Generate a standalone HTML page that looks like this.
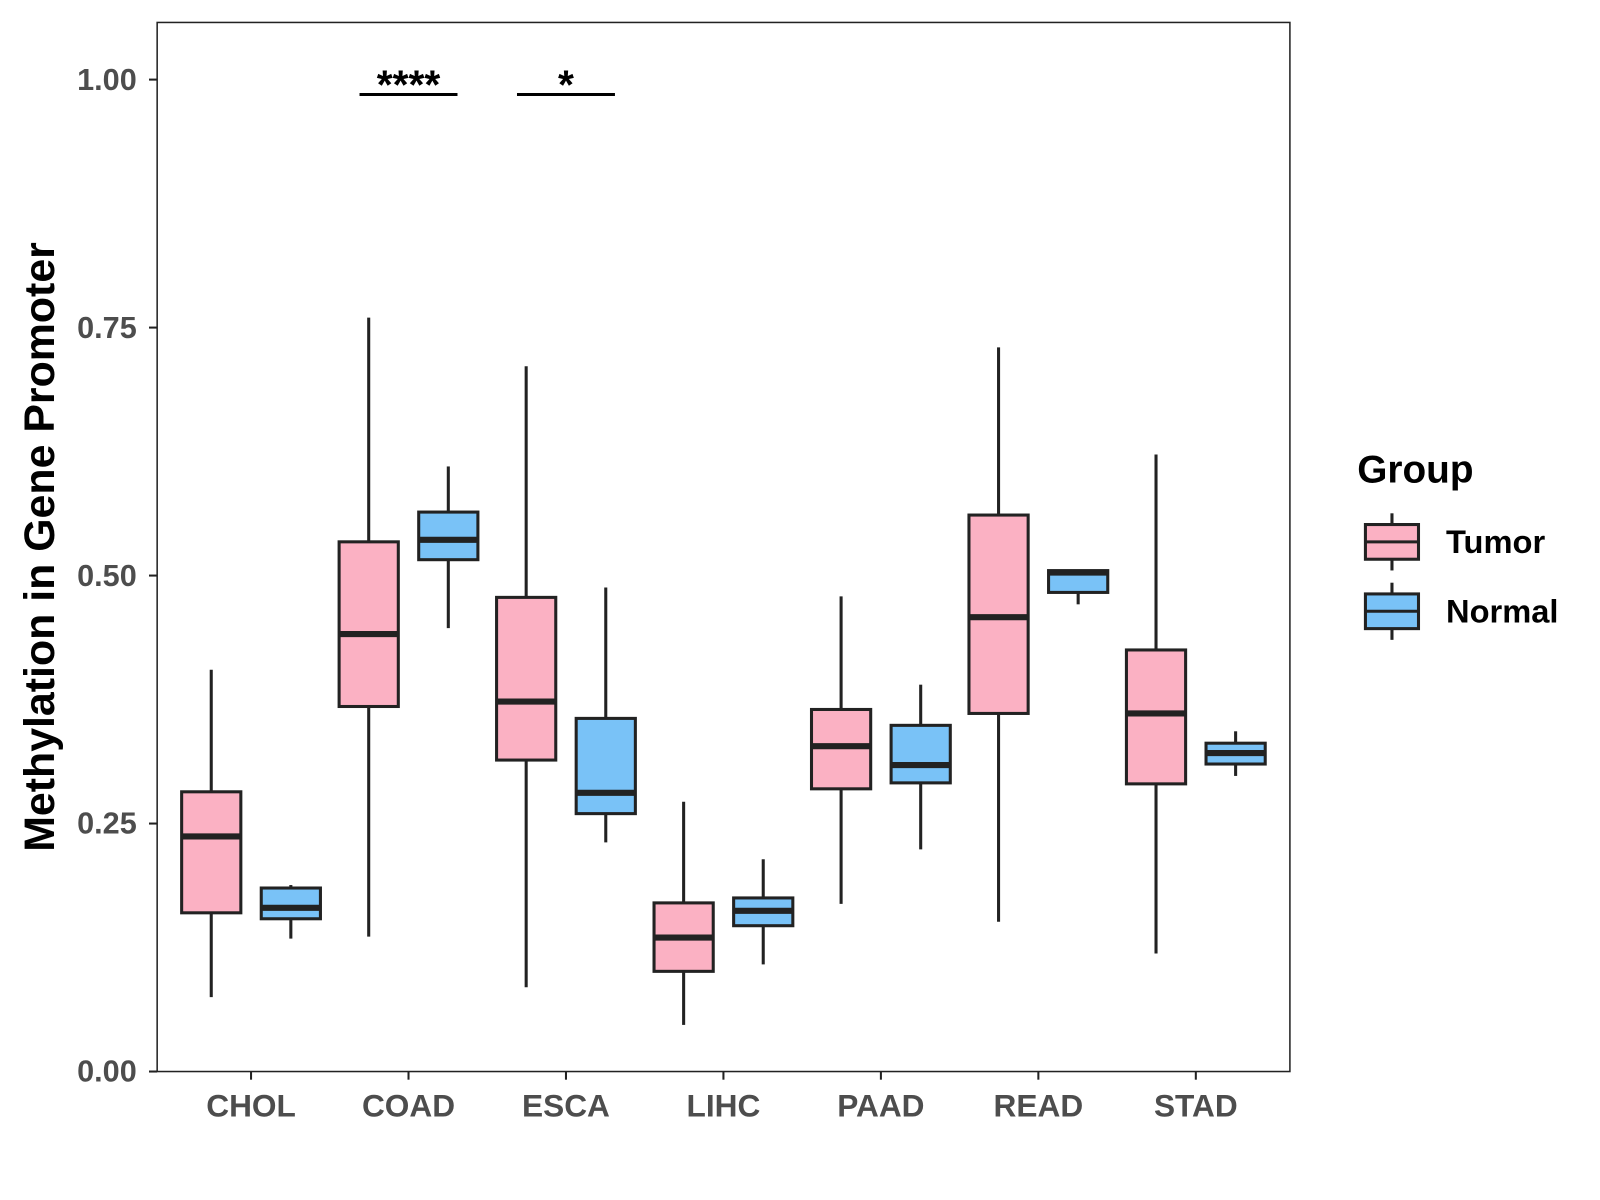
<!DOCTYPE html>
<html><head><meta charset="utf-8"><style>
html,body{margin:0;padding:0;background:#fff;}
svg{display:block;font-family:"Liberation Sans",Arial,sans-serif;}
</style></head><body>
<svg width="1600" height="1200" viewBox="0 0 1600 1200"><g id="chart" transform="scale(1.0205)"></g></svg>
<script>
const categories=["CHOL","COAD","ESCA","LIHC","PAAD","READ","STAD"];
const groups=["Tumor","Normal"];
// [low, q1, median, q3, high]
const tumorStats=[[0.075,0.160,0.237,0.282,0.405],[0.136,0.368,0.441,0.534,0.760],[0.085,0.314,0.373,0.478,0.711],[0.047,0.101,0.135,0.170,0.272],[0.169,0.285,0.328,0.365,0.479],[0.151,0.361,0.458,0.561,0.730],[0.119,0.290,0.361,0.425,0.622]];
const normalStats=[[0.134,0.154,0.165,0.185,0.188],[0.447,0.516,0.536,0.564,0.610],[0.231,0.260,0.281,0.356,0.488],[0.108,0.147,0.162,0.175,0.214],[0.224,0.291,0.309,0.349,0.390],[0.471,0.483,0.503,0.505,0.506],[0.298,0.310,0.321,0.331,0.343]];
const yTicks=[0,0.25,0.5,0.75,1.0];
const yTickLabels=["0.00","0.25","0.50","0.75","1.00"];
const sigCats=["COAD","ESCA"];
const sigLabels=["****","*"];
const sigY=[0.985,0.985];

const NS="http://www.w3.org/2000/svg";
const svg=document.getElementById("chart");
const P={l:154,r:1264,t:22,b:1050};
const y=v=>1050-v*972;
const x=i=>246+154.3*i;
const colors={Tumor:"#FBB1C3",Normal:"#79C2F7"};
function el(t,a,p){const e=document.createElementNS(NS,t);for(const k in a)e.setAttribute(k,a[k]);(p||svg).appendChild(e);return e;}

const panel=el("rect",{x:P.l,y:P.t,width:P.r-P.l,height:P.b-P.t,fill:"none",stroke:"#222","stroke-width":1.5});



yTicks.forEach((v,i)=>{
  const tk=el("line",{x1:P.l-8,x2:P.l,y1:y(v),y2:y(v),stroke:"#222","stroke-width":2});
  
  
  const t=el("text",{x:P.l-20,y:y(v)+10,"text-anchor":"end","font-size":30,"font-weight":"bold",fill:"#4d4d4d"});
  t.textContent=yTickLabels[i];
  
  
});
categories.forEach((c,i)=>{
  const cx=x(i);
  const tk=el("line",{x1:cx,x2:cx,y1:P.b,y2:P.b+8,stroke:"#222","stroke-width":2});
  
  
  const t=el("text",{x:cx,y:1094,"text-anchor":"middle","font-size":31,"font-weight":"bold",fill:"#4d4d4d"});
  t.textContent=c;
  
  
  [[tumorStats[i],-39,"Tumor"],[normalStats[i],39,"Normal"]].forEach(([s,off,g])=>{
    const bx=cx+off,w=58;
    const gEl=el("g",{});
    
    
    el("line",{x1:bx,x2:bx,y1:y(s[4]),y2:y(s[3]),stroke:"#222","stroke-width":3},gEl);
    el("line",{x1:bx,x2:bx,y1:y(s[1]),y2:y(s[0]),stroke:"#222","stroke-width":3},gEl);
    el("rect",{x:bx-w/2,y:y(s[3]),width:w,height:y(s[1])-y(s[3]),fill:colors[g],stroke:"#222","stroke-width":3},gEl);
    el("line",{x1:bx-w/2,x2:bx+w/2,y1:y(s[2]),y2:y(s[2]),stroke:"#222","stroke-width":6},gEl);
  });
});
sigCats.forEach((c,j)=>{
  const i=categories.indexOf(c),cx=x(i);
  const l=el("line",{x1:cx-48,x2:cx+48,y1:y(sigY[j]),y2:y(sigY[j]),stroke:"#000","stroke-width":3});
  
  
  const t=el("text",{x:cx,y:y(sigY[j])+4,"text-anchor":"middle","font-size":40,"font-weight":"bold",fill:"#000"});
  t.textContent=sigLabels[j];
  
  
});
const yt=el("text",{x:0,y:0,transform:"translate(53,536) rotate(-90)","text-anchor":"middle","font-size":42,"font-weight":"bold",fill:"#000"});
yt.textContent="Methylation in Gene Promoter";



const lt=el("text",{x:1330,y:473,"font-size":38,"font-weight":"bold",fill:"#000"});
lt.textContent="Group";


groups.forEach((g,k)=>{
  const cy=531+k*68;
  const ge=el("g",{});
  
  
  el("line",{x1:1364,x2:1364,y1:cy-28,y2:cy+28,stroke:"#222","stroke-width":3},ge);
  el("rect",{x:1338,y:cy-17,width:52,height:34,fill:colors[g],stroke:"#222","stroke-width":3},ge);
  el("line",{x1:1338,x2:1390,y1:cy,y2:cy,stroke:"#222","stroke-width":3},ge);
  const t=el("text",{x:1417,y:cy+11,"font-size":32,"font-weight":"bold",fill:"#000"},ge);
  t.textContent=g;
});
</script>
</body></html>
